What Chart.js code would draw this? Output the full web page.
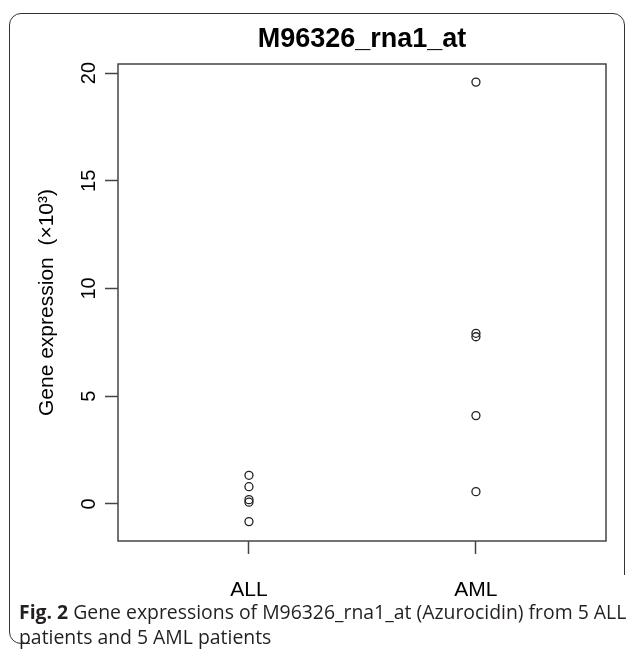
<!DOCTYPE html>
<html>
<head>
<meta charset="utf-8">
<script src="https://cdn.jsdelivr.net/npm/chart.js@4.4.1/dist/chart.umd.min.js"></script>
<style>
  html, body { margin: 0; padding: 0; background: #fff; }
  #wrap { position: relative; width: 629px; height: 649px; overflow: hidden; }
  #card { position: absolute; left: 9px; top: 13px; width: 614px; height: 629px;
          border: 1.5px solid #333; border-radius: 12px; }
  .mask { position: absolute; background: #fff; }
  #chartBox { position: absolute; left: 0; top: 0; width: 629px; height: 600px; }
  #caption { position: absolute; left: 19px; top: 599px; font-family: "Open Sans", sans-serif;
             font-size: 19.4px; line-height: 25px; color: #231f20; white-space: nowrap; }
</style>
</head>
<body>
<div id="wrap">
  <div id="card"></div>
  <div class="mask" style="left:600px; top:575px; width:29px; height:74px;"></div>
  <div class="mask" style="left:30px; top:638px; width:599px; height:11px;"></div>
  <div id="chartBox"><canvas id="stripChart"></canvas></div>
  <div id="caption"><b>Fig. 2</b> Gene expressions of M96326_rna1_at (Azurocidin) from 5 ALL<br>patients and 5 AML patients</div>
</div>
<script>
const categories = ["ALL", "AML"];
const categoryPositions = [1, 2];
const allValues = [1.33, 0.80, 0.20, 0.08, -0.82];
const amlValues = [19.58, 7.92, 7.76, 4.10, 0.57];
const yTicks = [0, 5, 10, 15, 20];

const FONT = "'Liberation Sans', Arial, Helvetica, sans-serif";
const LINE = "#444";

const boxPlugin = {
  id: "box",
  afterDraw(chart) {
    const { ctx, chartArea: a } = chart;
    ctx.save();
    ctx.strokeStyle = LINE;
    ctx.lineWidth = 1.5;
    ctx.strokeRect(a.left, a.top, a.right - a.left, a.bottom - a.top);
    ctx.restore();
  }
};

// R draws the y tick labels turned on their side
const yLabelPlugin = {
  id: "yLabels",
  afterDraw(chart) {
    const { ctx } = chart;
    const y = chart.scales.y;
    ctx.save();
    ctx.fillStyle = "#000";
    ctx.font = "20px " + FONT;
    ctx.textAlign = "center";
    ctx.textBaseline = "alphabetic";
    y.ticks.forEach(t => {
      ctx.save();
      ctx.translate(y.right - 23, y.getPixelForValue(t.value));
      ctx.rotate(-Math.PI / 2);
      ctx.fillText(String(t.value), 0, 0);
      ctx.restore();
    });
    ctx.restore();
  }
};

const pointStyle = {
  pointStyle: "circle",
  pointRadius: 4,
  pointHoverRadius: 4,
  pointBorderWidth: 1.3,
  pointBorderColor: "#222",
  pointBackgroundColor: "rgba(0,0,0,0)",
  showLine: false
};

new Chart(document.getElementById("stripChart"), {
  type: "scatter",
  data: {
    datasets: [
      { label: categories[0], data: allValues.map(v => ({ x: categoryPositions[0], y: v })), ...pointStyle },
      { label: categories[1], data: amlValues.map(v => ({ x: categoryPositions[1], y: v })), ...pointStyle }
    ]
  },
  options: {
    responsive: true,
    maintainAspectRatio: false,
    animation: false,
    layout: { padding: { left: 0, right: 23, top: 0, bottom: 0 } },
    plugins: {
      legend: { display: false },
      tooltip: { enabled: false },
      title: {
        display: true,
        text: "M96326_rna1_at",
        fullSize: false,
        color: "#000",
        font: { family: FONT, size: 27, weight: "bold" },
        padding: { top: 23.3, bottom: 8.3 }
      }
    },
    scales: {
      x: {
        type: "linear",
        min: 0.423,
        max: 2.573,
        afterBuildTicks: s => { s.ticks = categoryPositions.map(v => ({ value: v })); },
        afterFit: s => { s.height = 59; },
        ticks: {
          callback: v => categories[categoryPositions.indexOf(v)],
          color: "#000",
          font: { family: FONT, size: 21 },
          padding: 24,
          maxRotation: 0,
          autoSkip: false
        },
        grid: { drawOnChartArea: false, tickLength: 13, tickColor: LINE, tickWidth: 1.5 },
        border: { display: false }
      },
      y: {
        type: "linear",
        min: -1.72,
        max: 20.42,
        afterBuildTicks: s => { s.ticks = yTicks.map(v => ({ value: v })); },
        afterFit: s => { s.width = 118; },
        ticks: { display: false },
        grid: { drawOnChartArea: false, tickLength: 13, tickColor: LINE, tickWidth: 1.5 },
        border: { display: false },
        title: {
          display: true,
          text: "Gene expression  (×10³)",
          color: "#000",
          font: { family: FONT, size: 21 },
          padding: { top: 35, bottom: 0 }
        }
      }
    }
  },
  plugins: [boxPlugin, yLabelPlugin]
});
</script>
</body>
</html>
